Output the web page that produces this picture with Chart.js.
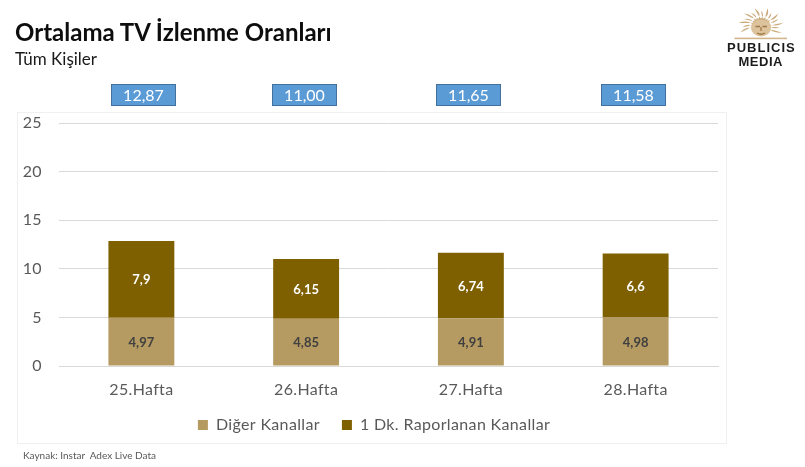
<!DOCTYPE html>
<html lang="tr">
<head>
<meta charset="utf-8">
<script src="https://cdn.jsdelivr.net/npm/chart.js@4"></script>
<style>
html,body{margin:0;padding:0;background:#fff;width:805px;height:467px;overflow:hidden}
#wrap{position:relative;width:805px;height:467px;font-family:Lato,sans-serif}
canvas{position:absolute;left:0;top:0}
.t{position:absolute;white-space:nowrap}
#title{left:15px;top:15px;font-size:24px;font-weight:700;color:#0d0d0d;line-height:34px}
#sub{left:15px;top:48px;font-size:17px;color:#1a1a1a;line-height:22px}
#src{left:23px;top:448px;font-size:10px;color:#595959;line-height:14px}
#p{left:727px;top:41px;font:700 13px 'Liberation Sans',sans-serif;color:#1c1c1c;line-height:13px;letter-spacing:1px}
#m{left:738.5px;top:55px;font:700 13px 'Liberation Sans',sans-serif;color:#1c1c1c;line-height:13px;letter-spacing:.5px}
#logo{position:absolute;left:730px;top:4px}
</style>
</head>
<body>
<div id="wrap">
<canvas id="c" width="805" height="467"></canvas>
<div class="t" id="title">Ortalama TV İzlenme Oranları</div>
<div class="t" id="sub">Tüm Kişiler</div>
<div class="t" id="src">Kaynak: Instar&nbsp; Adex Live Data</div>
<svg id="logo" width="64" height="38" viewBox="0 0 64 38"></svg>
<div class="t" id="p">PUBLICIS</div>
<div class="t" id="m">MEDIA</div>
</div>
<script>
const categories = ['25.Hafta','26.Hafta','27.Hafta','28.Hafta'];
const digerKanallar = [4.97,4.85,4.91,4.98];
const raporlananKanallar = [7.9,6.15,6.74,6.6];
const totals = ['12,87','11,00','11,65','11,58'];
const yTicks = [0,5,10,15,20,25];
const seriesNames = ['Diğer Kanallar','1 Dk. Raporlanan Kanallar'];
const boxLefts = [111,272,436,601];

const FONT = 'Lato, sans-serif';
const SPACING = '0.35px';
const fmt = v => String(v).replace('.',',');
const noClip = s => { s._computeLabelArea = () => undefined; };

const frame = {
  id:'frame',
  beforeLayout(ch){ ch.ctx.letterSpacing = SPACING; },
  beforeDraw(ch){
    const x = ch.ctx;
    x.letterSpacing = SPACING;
    x.save();
    x.fillStyle='#fff'; x.fillRect(0,0,805,467);
    x.strokeStyle='#f0f0f0'; x.lineWidth=1;
    x.strokeRect(17.5,112.5,709,331);
    x.restore();
  }
};
const labels = {
  id:'labels',
  afterDatasetsDraw(ch){
    const x = ch.ctx; x.save();
    x.letterSpacing='0px';
    x.textAlign='center'; x.textBaseline='middle';
    ch.data.datasets.forEach((ds,i)=>{
      ch.getDatasetMeta(i).data.forEach((b,j)=>{
        x.font='700 13px '+FONT;
        x.fillStyle = i===0 ? '#404040' : '#ffffff';
        x.fillText(fmt(ds.data[j]), b.x, (b.y+b.base)/2+1);
      });
    });
    totals.forEach((t,j)=>{
      const l=boxLefts[j];
      x.fillStyle='#5b9bd5'; x.fillRect(l,84,65,22);
      x.strokeStyle='#41719c'; x.lineWidth=1; x.strokeRect(l+.5,84.5,64,21);
      x.fillStyle='#fff'; x.font='400 16px '+FONT;
      x.fillText(t,l+32.5,95.5);
    });
    x.restore();
  }
};

new Chart(document.getElementById('c'),{
  type:'bar',
  data:{labels:categories,datasets:[
    {label:seriesNames[0],data:digerKanallar,backgroundColor:'#b59a61',stack:'s'},
    {label:seriesNames[1],data:raporlananKanallar,backgroundColor:'#7f6000',stack:'s'}
  ]},
  options:{
    responsive:false,animation:false,
    layout:{padding:{left:30,right:87,top:123,bottom:24}},
    datasets:{bar:{categoryPercentage:1,barPercentage:0.4}},
    plugins:{
      tooltip:{enabled:false},
      legend:{position:'bottom',labels:{boxWidth:10,boxHeight:10,padding:22,color:'#595959',font:{family:FONT,size:16}}}
    },
    scales:{
      x:{stacked:true,grid:{display:false},border:{color:'#d9d9d9'},
        ticks:{color:'#595959',font:{family:FONT,size:16},padding:6,maxRotation:0},
        afterFit(s){s.height=29;noClip(s)}},
      y:{stacked:true,min:0,max:25,afterBuildTicks(s){s.ticks=yTicks.map(v=>({value:v}))},
        grid:{color:'#d9d9d9',drawTicks:false},border:{display:false},
        ticks:{color:'#595959',font:{family:FONT,size:16},padding:17},
        afterFit(s){s.width=29;noClip(s)}}
    }
  },
  plugins:[frame,labels]
});

// logo sunburst
(function(){
  const svg=document.getElementById('logo');
  let s='';
  const cx=31,cy=21,sx=1.3;
  const p=(r,t)=>[(cx+sx*r*Math.cos(t)).toFixed(1),(cy+r*Math.sin(t)).toFixed(1)].join(',');
  for(let k=0;k<15;k++){
    const a=Math.PI*(-1.14+k*1.28/14);
    const r0=5,r1=k%2?14.5:17.5,w=.42,bend=.34;
    s+=`<path d="M${p(r0,a-w)} Q${p((r0+r1)/2,a+bend+.1)} ${p(r1,a)} Q${p((r0+r1)/2,a+bend-.32)} ${p(r0,a+w)}Z" fill="#cbab7c"/>`;
  }
  s+=`<ellipse cx="${cx}" cy="${cy+3}" rx="10" ry="8.5" fill="#dcc39c"/>`;
  s+=`<path d="M25.5 22.5h4.5M32.5 22.5h4.5M31 23v4M27 29q4 2.5 8 0" stroke="#9e7a48" stroke-width="1.3" fill="none"/>`;
  s+=`<rect x="4.5" y="33.6" width="52.5" height="1.6" fill="#d2b68c"/>`;
  svg.innerHTML=s;
})();
</script>
</body>
</html>
